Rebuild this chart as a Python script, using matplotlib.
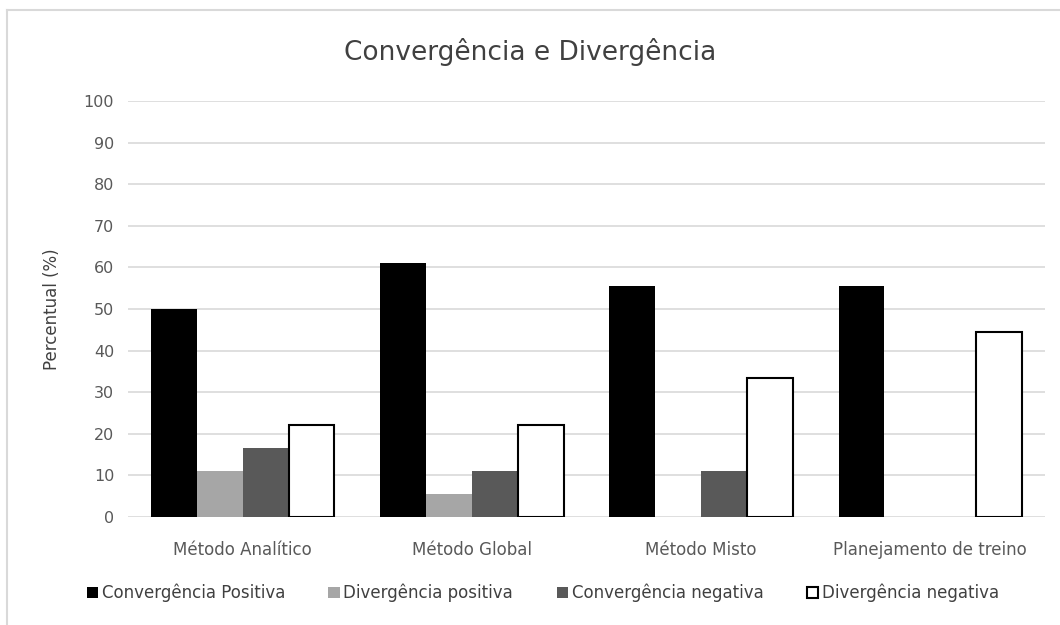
import numpy as np
import matplotlib.pyplot as plt
from matplotlib.lines import Line2D

plt.rcParams['font.family'] = ['Liberation Sans Narrow', 'DejaVu Sans']

categorias = ['Método Analítico', 'Método Global', 'Método Misto', 'Planejamento de treino']
series = ['Convergência Positiva', 'Divergência positiva', 'Convergência negativa', 'Divergência negativa']
conv_pos = [50.0, 61.1, 55.6, 55.6]
div_pos = [11.1, 5.6, 0.0, 0.0]
conv_neg = [16.7, 11.1, 11.1, 0.0]
div_neg = [22.2, 22.2, 33.3, 44.4]

cores = ['#000000', '#A6A6A6', '#595959', '#FFFFFF']
bordas = ['#000000', '#A6A6A6', '#595959', '#000000']

fig = plt.figure(figsize=(10.6, 6.25), dpi=100)
ax = fig.add_axes([0.1208, 0.1728, 0.865, 0.6656])

# moldura do gráfico (só topo e lado esquerdo visíveis)
fig.lines.append(Line2D([7 / 1060, 1.0], [1 - 10 / 625, 1 - 10 / 625],
                        transform=fig.transFigure, color='#D9D9D9', linewidth=1.5))
fig.lines.append(Line2D([7 / 1060, 7 / 1060], [0.0, 1 - 10 / 625],
                        transform=fig.transFigure, color='#D9D9D9', linewidth=1.5))

x = np.arange(len(categorias))
w = 0.2
for i, (vals, nome) in enumerate(zip([conv_pos, div_pos, conv_neg, div_neg], series)):
    lw = 1.5 if i == 3 else 0
    ax.bar(x + (i - 1.5) * w, vals, w, color=cores[i], edgecolor=bordas[i],
           linewidth=lw, label=nome, zorder=3)

ax.set_xlim(-0.5, 3.5)
ax.set_ylim(0, 100)
ax.set_yticks(np.arange(0, 101, 10))
ax.set_xticks(x)
ax.set_xticklabels(categorias)
ax.yaxis.grid(True, color='#D9D9D9', linewidth=1.2, zorder=0)
ax.set_axisbelow(True)
for s in ax.spines.values():
    s.set_visible(False)
ax.tick_params(length=0, labelsize=11.5, colors='#595959', pad=10)
ax.tick_params(axis='x', labelsize=12, pad=17)
ax.set_ylabel('Percentual (%)', fontsize=12, color='#404040', labelpad=16)

fig.text(0.5, 0.917, 'Convergência e Divergência', ha='center', va='center',
         fontsize=19, color='#404040')

leg = fig.legend(loc='center', bbox_to_anchor=(0.512, 0.051), ncol=4, frameon=False,
                 fontsize=12, handlelength=0.7, handleheight=0.7, handletextpad=0.2,
                 columnspacing=2.6)
for t in leg.get_texts():
    t.set_color('#404040')

plt.savefig('out.png', dpi=100)
